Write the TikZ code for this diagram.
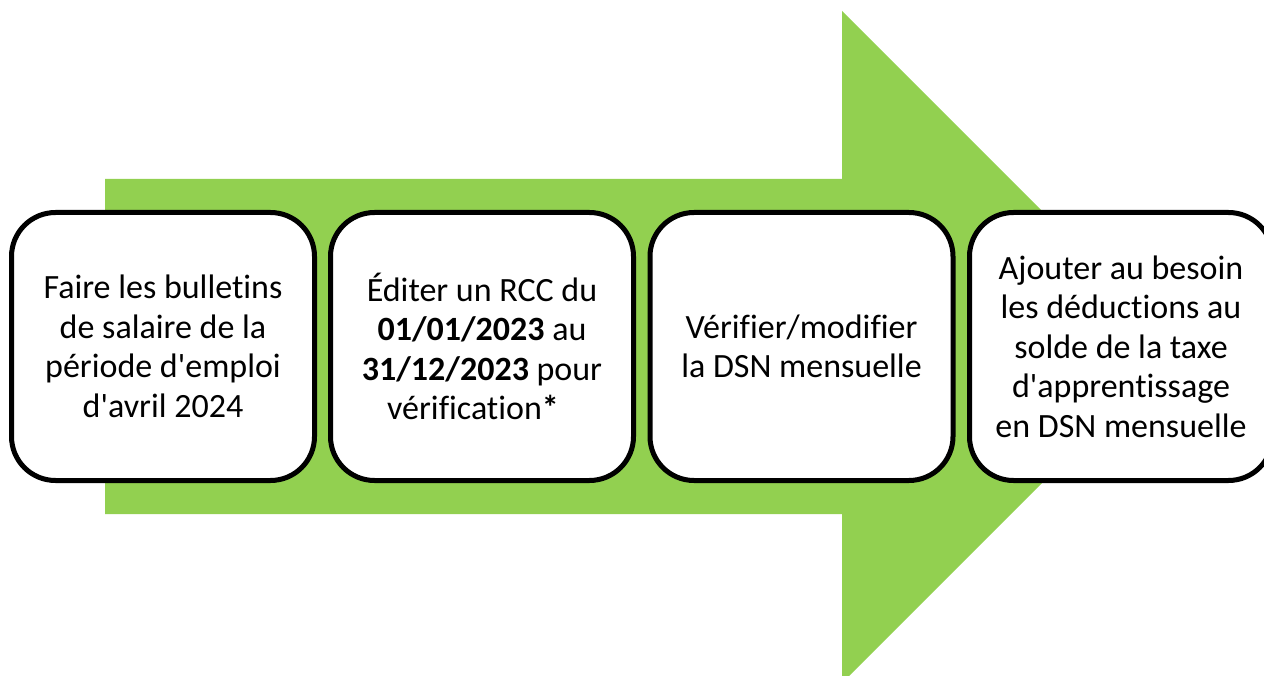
\documentclass[tikz,border=0pt]{standalone}
\usepackage{fontspec}
\setmainfont{Carlito}[Ligatures={NoCommon}]
\newcommand\myapos{\textquotesingle}
\definecolor{arrowgreen}{HTML}{92D050}
\begin{document}
\begin{tikzpicture}[x=1pt,y=-1pt,
  stepbox/.style={draw=black, line width=5pt, fill=white, rounded corners=44pt,
    minimum width=303pt, minimum height=268pt, inner sep=0pt, align=center,
    font=\fontsize{34}{39.5}\selectfont}]
\useasboundingbox (0,0) rectangle (1264,676);
\fill[arrowgreen] (105,179) -- (842,179) -- (842,11) -- (1178,347) -- (842,683) -- (842,514) -- (105,514) -- cycle;
\node[stepbox] (s1) at (163,346.5) {Faire les bulletins\\de salaire de la\\période d\myapos emploi\\d\myapos avril 2024};
\node[stepbox] (s2) at (482,346.5) {Éditer un RCC du\\\textbf{01/01/2023} au\\\textbf{31/12/2023} pour\\vérification\textbf{*}\hspace*{18pt}};
\node[stepbox] (s3) at (801.5,346.5) {Vérifier/modifier\\la DSN mensuelle};
\node[stepbox] (s4) at (1121,346.5) {Ajouter au besoin\\les déductions au\\solde de la taxe\\d\myapos apprentissage\\en DSN mensuelle};
\end{tikzpicture}
\end{document}
